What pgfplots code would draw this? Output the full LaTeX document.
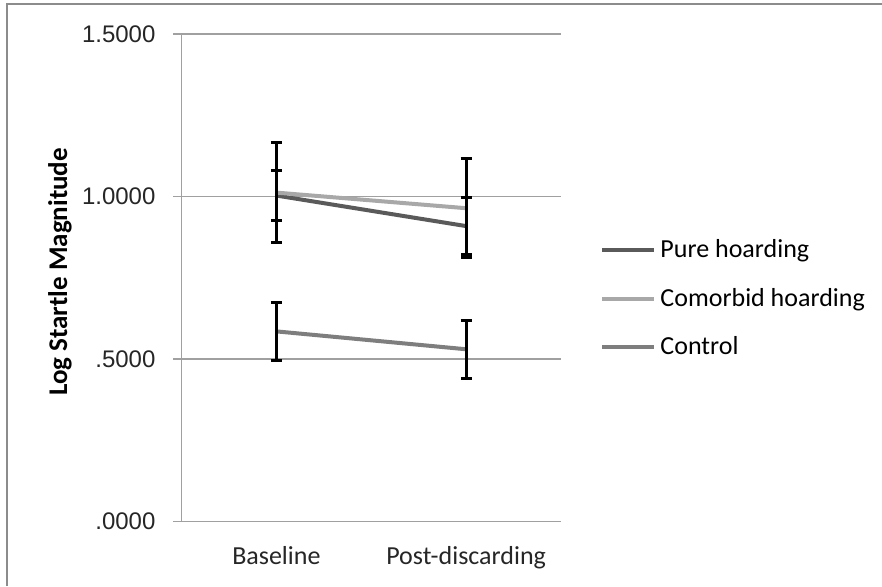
\documentclass[border=0pt]{standalone}
\usepackage{fontspec}
\setmainfont{Carlito}
\newfontfamily\arialfont{Liberation Sans}
\usepackage{pgfplots}
\pgfplotsset{compat=1.18}
\definecolor{pureC}{HTML}{5A5A5A}
\definecolor{comoC}{HTML}{A8A8A8}
\definecolor{ctrlC}{HTML}{7E7E7E}
\definecolor{gridC}{HTML}{A0A0A0}
\begin{document}
\begin{tikzpicture}
\useasboundingbox (-90.75pt,-32.25pt) rectangle (350.25pt,260.75pt);
\draw[color=gray!90, line width=1pt] (-87.25pt,-32.25pt) -- (-87.25pt,258.75pt) -- (350.25pt,258.75pt);
\begin{axis}[
  at={(0,0)}, anchor=south west,
  scale only axis, width=189.75pt, height=243.75pt,
  xmin=0.5, xmax=2.5, ymin=0, ymax=1.5,
  axis x line=bottom, axis y line=left,
  axis line style={-, draw=gridC, line width=0.75pt},
  ytick={0,0.5,1,1.5},
  yticklabels={.0000,.5000,1.0000,1.5000},
  yticklabel style={font=\arialfont\fontsize{12}{14}\selectfont, text=black!85, xshift=-5.5pt},
  xtick={1,2},
  xticklabels={Baseline,Post-discarding},
  xticklabel style={font=\fontsize{13}{15}\selectfont, text=black!85, yshift=-5pt},
  major x tick style={draw=none},
  extra x ticks={0.5,1.5,2.5},
  extra x tick labels={},
  extra x tick style={major tick style={draw=gridC, line width=0.75pt}, grid=none},
  tick align=outside, major tick length=4pt,
  major tick style={draw=gridC, line width=0.75pt},
  ymajorgrids, grid style={draw=gridC, line width=0.75pt},
  ylabel={\bfseries Log Startle Magnitude},
  ylabel style={at={(axis description cs:-0.32,0.512)}, anchor=center, font=\fontsize{13.5}{16}\selectfont},
  legend style={at={(axis description cs:1.103,0.457)}, anchor=west, draw=none, fill=none,
    font=\fontsize{13}{15}\selectfont, row sep=9.75pt, inner sep=0pt},
  legend cell align=left,
  legend image code/.code={\draw[#1, line width=2pt] (0pt,0pt) -- (26pt,0pt);},
  clip=false,
]
\addplot[pureC, line width=2pt] coordinates {(1,1.003) (2,0.909)};
\addlegendentry{Pure hoarding}
\addplot[comoC, line width=2pt] coordinates {(1,1.012) (2,0.964)};
\addlegendentry{Comorbid hoarding}
\addplot[ctrlC, line width=2pt] coordinates {(1,0.585) (2,0.530)};
\addlegendentry{Control}
\addplot[forget plot, draw=none, mark=none,
  error bars/.cd, y dir=both, y explicit,
  error bar style={draw=black, line width=1.5pt},
  error mark options={rotate=90, draw=black, mark size=2.75pt, line width=1.5pt}]
  table[x=x, y=y, y error=e] {
x y e
1 1.003 0.078
2 0.909 0.087
1 1.012 0.155
2 0.964 0.152
1 0.585 0.089
2 0.530 0.089
};
\end{axis}
\end{tikzpicture}
\end{document}
